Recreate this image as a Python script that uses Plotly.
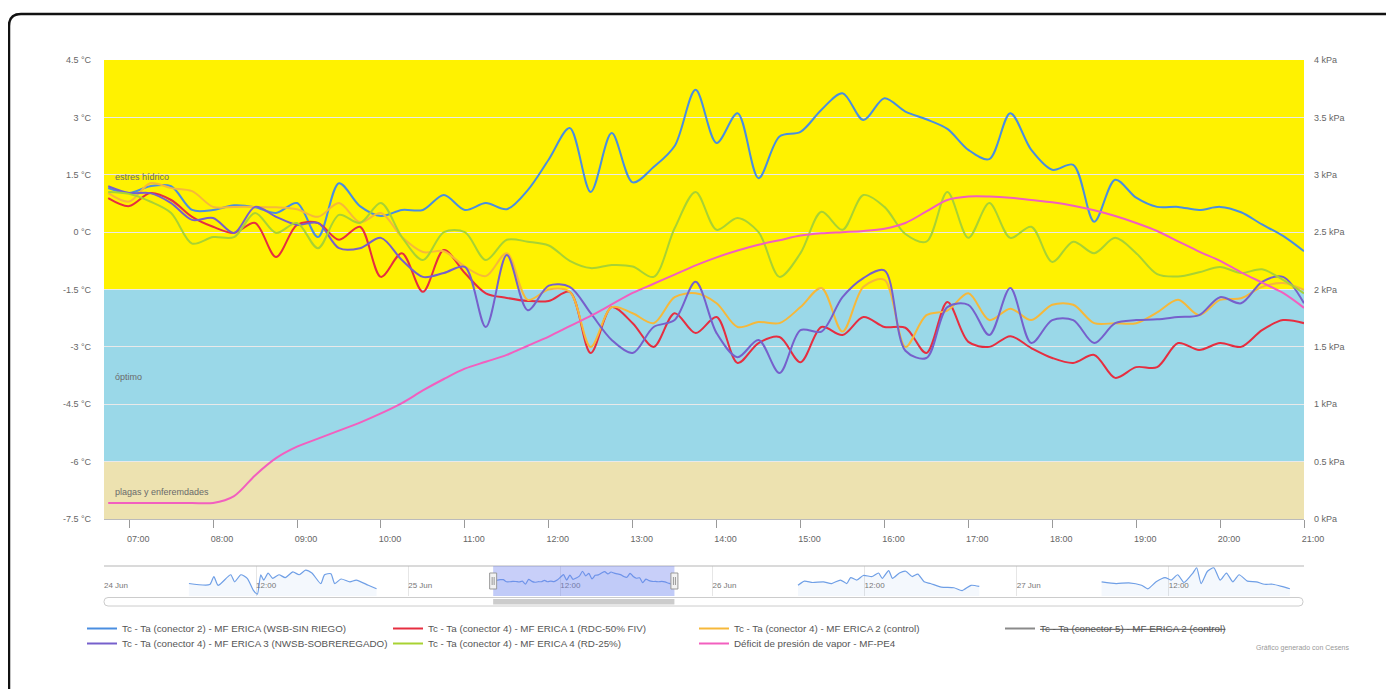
import plotly.graph_objects as go

# ---------------- data ----------------
DAY = "2024-06-25"
X_START = "2024-06-25 06:42"
X_END = "2024-06-25 21:00"

TIMES = ["06:45", "07:00", "07:15", "07:30", "07:45", "08:00", "08:15", "08:30", "08:45",
         "09:00", "09:15", "09:30", "09:45", "10:00", "10:15", "10:30", "10:45",
         "11:00", "11:15", "11:30", "11:45", "12:00", "12:15", "12:30", "12:45",
         "13:00", "13:15", "13:30", "13:45", "14:00", "14:15", "14:30", "14:45",
         "15:00", "15:15", "15:30", "15:45", "16:00", "16:15", "16:30", "16:45",
         "17:00", "17:15", "17:30", "17:45", "18:00", "18:15", "18:30", "18:45",
         "19:00", "19:15", "19:30", "19:45", "20:00", "20:15", "20:30", "20:45", "21:00"]

WSB_SIN_RIEGO = [1.15, 1.02, 1.20, 1.20, 0.58, 0.58, 0.70, 0.65, 0.50, 0.76,
                 -0.13, 1.28, 0.68, 0.42, 0.58, 0.58, 0.97, 0.58, 0.76, 0.60,
                 1.10, 1.90, 2.72, 1.05, 2.59, 1.30, 1.70, 2.25, 3.72, 2.33,
                 3.11, 1.41, 2.50, 2.62, 3.20, 3.63, 2.93, 3.50, 3.15, 2.95,
                 2.70, 2.15, 1.91, 3.11, 2.15, 1.63, 1.76, 0.27, 1.37, 0.90,
                 0.66, 0.66, 0.58, 0.66, 0.52, 0.20, -0.10, -0.50]

RDC_50_FIV = [0.89, 0.68, 1.02, 0.84, 0.40, 0.14, -0.02, 0.24, -0.65, 0.19,
              0.24, -0.20, 0.14, -1.17, -0.55, -1.56, -0.47, -1.07, -1.60, -1.72,
              -1.80, -1.80, -1.56, -3.16, -1.96, -2.38, -3.00, -2.12, -2.64, -2.22,
              -3.42, -2.90, -2.74, -3.40, -2.48, -2.69, -2.22, -2.48, -2.50, -3.16,
              -1.83, -2.87, -3.00, -2.72, -3.03, -3.29, -3.42, -3.21, -3.81, -3.53,
              -3.53, -2.90, -3.08, -2.90, -3.00, -2.56, -2.30, -2.38]

CONTROL_C4 = [1.02, 0.80, 1.28, 1.15, 1.07, 0.66, 0.66, 0.66, 0.65, 0.60,
              0.40, 0.76, 0.26, 0.50, -0.13, -0.52, -0.50, -0.90, -1.15, -0.55,
              -1.77, -1.50, -1.56, -3.00, -1.96, -2.12, -2.38, -1.70, -1.60, -1.86,
              -2.48, -2.35, -2.38, -1.96, -1.46, -2.60, -1.43, -1.25, -3.00, -2.17,
              -2.05, -1.60, -2.30, -2.00, -2.30, -1.90, -1.90, -2.38, -2.38, -2.38,
              -2.10, -1.77, -2.17, -1.77, -1.73, -1.43, -1.33, -1.51]

NWSB_SOBREREGADO = [1.20, 1.02, 1.02, 0.76, 0.32, 0.37, -0.02, 0.66, 0.40, 0.19,
                    0.24, -0.42, -0.42, -0.15, -0.73, -1.17, -1.07, -0.91, -2.48, -0.60,
                    -2.04, -1.40, -1.43, -2.12, -2.82, -3.16, -2.48, -2.30, -1.30, -2.64,
                    -3.27, -2.82, -3.68, -2.56, -2.60, -1.70, -1.20, -1.00, -3.10, -3.29,
                    -1.96, -1.90, -2.69, -1.46, -2.90, -2.30, -2.30, -2.90, -2.38, -2.30,
                    -2.28, -2.22, -2.17, -1.70, -1.86, -1.30, -1.17, -1.86]

RD_25 = [1.05, 1.00, 0.80, 0.50, -0.30, -0.13, -0.13, 0.50, -0.02, 0.24,
         -0.42, 0.45, 0.24, 0.76, -0.13, -0.73, 0.00, 0.00, -0.73, -0.20,
         -0.25, -0.35, -0.75, -0.94, -0.86, -0.90, -1.17, 0.10, 1.05, 0.06,
         0.37, 0.00, -1.17, -0.55, 0.53, 0.06, 0.97, 0.66, -0.05, -0.25,
         1.05, -0.15, 0.76, -0.15, 0.14, -0.78, -0.25, -0.55, -0.15, -0.55,
         -1.10, -1.16, -1.05, -0.91, -1.07, -0.97, -1.25, -1.60]

VPD_KPA = [0.14, 0.14, 0.14, 0.14, 0.14, 0.14, 0.20, 0.38, 0.53, 0.63,
           0.70, 0.77, 0.84, 0.92, 1.01, 1.12, 1.22, 1.31, 1.37, 1.43,
           1.51, 1.59, 1.68, 1.77, 1.87, 1.97, 2.05, 2.13, 2.21, 2.28,
           2.34, 2.39, 2.43, 2.47, 2.49, 2.50, 2.51, 2.53, 2.58, 2.68,
           2.78, 2.81, 2.81, 2.80, 2.78, 2.76, 2.73, 2.69, 2.64, 2.58,
           2.51, 2.42, 2.33, 2.25, 2.15, 2.06, 1.97, 1.84]

SERIES_NAMES = [
    "Tc - Ta (conector 2) - MF ERICA (WSB-SIN RIEGO)",
    "Tc - Ta (conector 4) - MF ERICA 1 (RDC-50% FIV)",
    "Tc - Ta (conector 4) - MF ERICA 2 (control)",
    "Tc - Ta (conector 5) - MF ERICA 2 (control)",
    "Tc - Ta (conector 4) - MF ERICA 3 (NWSB-SOBREREGADO)",
    "Tc - Ta (conector 4) - MF ERICA 4 (RD-25%)",
    "Déficit de presión de vapor - MF-PE4",
]

HOUR_TICKS = ["07:00", "08:00", "09:00", "10:00", "11:00", "12:00", "13:00", "14:00",
              "15:00", "16:00", "17:00", "18:00", "19:00", "20:00", "21:00"]
Y_TICKS = [-7.5, -6, -4.5, -3, -1.5, 0, 1.5, 3, 4.5]
Y_TICKTEXT = ["-7.5 °C", "-6 °C", "-4.5 °C", "-3 °C", "-1.5 °C", "0 °C", "1.5 °C", "3 °C", "4.5 °C"]
Y2_TICKS = [0, 0.5, 1, 1.5, 2, 2.5, 3, 3.5, 4]
Y2_TICKTEXT = ["0 kPa", "0.5 kPa", "1 kPa", "1.5 kPa", "2 kPa", "2.5 kPa", "3 kPa", "3.5 kPa", "4 kPa"]

BANDS = [(-1.5, 4.5, "estres hídrico", 1.44),
         (-6.0, -1.5, "óptimo", -3.79),
         (-7.5, -6.0, "plagas y enferemdades", -6.79)]

# navigator (overview of 4 days, series WSB-SIN RIEGO)
NAV_DAY1 = "2024-06-24"
NAV_D1_TIMES = ["06:42", "08:20", "08:40", "09:00", "10:00", "10:18", "10:48", "11:18", "11:48",
                "12:06", "12:22", "12:36", "12:57", "13:18", "13:48", "14:18", "14:54", "15:24",
                "15:54", "16:24", "17:06", "17:24", "17:54", "18:12", "18:42", "19:24", "19:54",
                "20:51", "21:30"]
NAV_D1_VALUES = [0.04, -0.28, 2.14, -0.49, 2.67, 0.56, 2.67, 1.61, -2.07,
                 -3.12, 2.67, 1.09, 3.19, 1.61, 2.67, 1.83, 3.51, 2.67,
                 4.04, 3.19, 0.04, 2.67, 2.98, 0.04, 1.40, 0.56, 1.09,
                 -0.49, -1.54]
NAV_DAY3 = "2024-06-26"
NAV_D3_TIMES = ["06:45", "07:15", "07:54", "08:45", "09:24", "10:06", "10:36", "10:54", "11:24",
                "11:54", "12:36", "13:06", "13:24", "13:54", "14:12", "14:45", "15:15", "15:45",
                "16:12", "16:42", "17:12", "18:03", "19:03", "19:42", "20:24", "21:03"]
NAV_D3_VALUES = [-0.49, 0.77, 0.35, 0.56, 0.04, 1.09, 0.04, 1.83, 1.09,
                 2.46, 2.14, 3.19, 1.61, 3.93, 1.61, 3.19, 3.72, 2.14,
                 2.88, 0.56, 0.04, -1.02, -1.23, -2.07, -0.49, -0.81]
NAV_DAY4 = "2024-06-27"
NAV_D4_TIMES = ["06:42", "07:51", "08:51", "09:51", "10:21", "11:00", "11:42", "12:12", "12:42",
                "13:12", "13:54", "14:12", "14:33", "15:03", "15:33", "16:03", "16:33", "17:03",
                "17:33", "18:12", "18:54", "19:33", "20:12", "20:54", "21:33"]
NAV_D4_VALUES = [0.56, 0.04, 0.25, -0.49, -1.54, 0.56, 1.83, 1.09, 2.67,
                 0.35, 3.19, 4.77, 0.04, 3.72, 4.77, 1.09, 3.19, 0.56,
                 2.67, 0.77, 0.56, -0.17, -0.17, -0.81, -1.54]
NAV_RANGE = ["2024-06-24 00:00", "2024-06-27 22:40"]
NAV_Y_RANGE = [-3.7, 5.3]
NAV_TICKS = ["2024-06-24 00:00", "2024-06-24 12:00", "2024-06-25 00:00", "2024-06-25 12:00",
             "2024-06-26 00:00", "2024-06-26 12:00", "2024-06-27 00:00", "2024-06-27 12:00"]
NAV_TICKTEXT = ["24 Jun", "12:00", "25 Jun", "12:00", "26 Jun", "12:00", "27 Jun", "12:00"]

# ---------------- styling ----------------
COLORS = ["#4a8ee0", "#e62e40", "#f6b83a", "#8a8a8a", "#7660cc", "#a8d233", "#f25fbf"]
LEGEND_ROW = ["legend", "legend", "legend", "legend", "legend2", "legend2", "legend2"]
FONT = "Liberation Sans, Arial, sans-serif"
BAND_COLORS = ["#fff200", "#9ad8e8", "#ede2b0"]

# page pixel layout (the html body adds an 8px margin around the figure)
PAGE_OFF = 8
FIG_W, FIG_H = 1394 - PAGE_OFF, 689 - PAGE_OFF
L_PX, R_PX, T_PX, B_PX = 104, 1304, 60, 606   # in page pixels


def px(x):
    return (x - L_PX) / (R_PX - L_PX)


def py(y):
    return (B_PX - y) / (B_PX - T_PX)


X = [f"{DAY} {t}" for t in TIMES]

fig = go.Figure()

main_series = [WSB_SIN_RIEGO, RDC_50_FIV, CONTROL_C4, None, NWSB_SOBREREGADO, RD_25]
for i, vals in enumerate(main_series):
    if vals is None:
        # series switched off in the reference (struck-through legend entry, no line drawn)
        fig.add_trace(go.Scatter(
            x=[X[0]], y=[None], name="<s>" + SERIES_NAMES[i] + "</s>",
            mode="lines", line=dict(color=COLORS[i], width=2),
            legend=LEGEND_ROW[i], xaxis="x", yaxis="y"))
        continue
    fig.add_trace(go.Scatter(
        x=X, y=vals, name=SERIES_NAMES[i], mode="lines",
        line=dict(color=COLORS[i], width=2, shape="spline", smoothing=0.9),
        legend=LEGEND_ROW[i], xaxis="x", yaxis="y"))

fig.add_trace(go.Scatter(
    x=X, y=VPD_KPA, name=SERIES_NAMES[6], mode="lines",
    line=dict(color=COLORS[6], width=2, shape="spline", smoothing=0.9),
    legend=LEGEND_ROW[6], xaxis="x", yaxis="y2"))

# navigator traces
nav_days = [
    ([f"{NAV_DAY1} {t}" for t in NAV_D1_TIMES], NAV_D1_VALUES),
    (X, WSB_SIN_RIEGO),
    ([f"{NAV_DAY3} {t}" for t in NAV_D3_TIMES], NAV_D3_VALUES),
    ([f"{NAV_DAY4} {t}" for t in NAV_D4_TIMES], NAV_D4_VALUES),
]
for nx, ny in nav_days:
    fig.add_trace(go.Scatter(x=nx, y=[NAV_Y_RANGE[0]] * len(nx), mode="lines",
                             line=dict(width=0), showlegend=False, hoverinfo="skip",
                             xaxis="x2", yaxis="y3"))
    fig.add_trace(go.Scatter(x=nx, y=ny, mode="lines", fill="tonexty",
                             fillcolor="rgba(100,150,230,0.07)",
                             line=dict(color="#6f9fe6", width=1.2, shape="spline", smoothing=0.6),
                             showlegend=False, hoverinfo="skip",
                             xaxis="x2", yaxis="y3"))

shapes = []
for (y0, y1, _, _), c in zip(BANDS, BAND_COLORS):
    shapes.append(dict(type="rect", xref="paper", yref="y", x0=0, x1=1, y0=y0, y1=y1,
                       fillcolor=c, line=dict(width=0), layer="below"))

# navigator outline top
shapes.append(dict(type="line", xref="paper", yref="paper", x0=0, x1=1,
                   y0=py(566), y1=py(566), line=dict(color="#b5b5b5", width=1)))
# navigator selection mask
shapes.append(dict(type="rect", xref="x2", yref="paper", x0=X_START, x1=X_END,
                   y0=py(596), y1=py(566), fillcolor="rgba(110,130,240,0.38)",
                   line=dict(width=0), layer="above"))
# handles
for anchor in (X_START, X_END):
    shapes.append(dict(type="rect", xref="x2", xsizemode="pixel", xanchor=anchor,
                       x0=-3.5, x1=3.5, yref="paper", y0=py(589), y1=py(573),
                       fillcolor="#f2f2f2", line=dict(color="#999999", width=1)))
    for dx in (-1, 1):
        shapes.append(dict(type="line", xref="x2", xsizemode="pixel", xanchor=anchor,
                           x0=dx, x1=dx, yref="paper", y0=py(585), y1=py(577),
                           line=dict(color="#999999", width=1)))


def rounded_rect(x0, y0, x1, y1, r):
    rx = r / (R_PX - L_PX)
    ry = r / (B_PX - T_PX)
    a, b, c, d = px(x0), py(y0), px(x1), py(y1)
    return (f"M {a + rx},{b} L {c - rx},{b} Q {c},{b} {c},{b - ry} L {c},{d + ry} "
            f"Q {c},{d} {c - rx},{d} L {a + rx},{d} Q {a},{d} {a},{d + ry} "
            f"L {a},{b - ry} Q {a},{b} {a + rx},{b} Z")


# scrollbar track and thumb
shapes.append(dict(type="path", xref="paper", yref="paper",
                   path=rounded_rect(104, 597.5, 1303, 606, 4),
                   fillcolor="#ffffff", line=dict(color="#cccccc", width=1)))
shapes.append(dict(type="rect", xref="x2", yref="paper", x0=X_START, x1=X_END,
                   y0=py(604.5), y1=py(599), fillcolor="#cccccc", line=dict(width=0)))

# outer page frame (rounded top-left corner)
fx0, fy0, r = 9, 14, 12
frame_path = (f"M {px(fx0)},{py(720)} L {px(fx0)},{py(fy0 + r)} "
              f"Q {px(fx0)},{py(fy0)} {px(fx0 + r)},{py(fy0)} L {px(1420)},{py(fy0)}")
shapes.append(dict(type="path", xref="paper", yref="paper", path=frame_path,
                   line=dict(color="#111111", width=2.5), layer="above"))

annotations = []
for (_, _, label, ly) in BANDS:
    annotations.append(dict(text=label, xref="paper", yref="y", x=px(113), y=ly,
                            xanchor="left", yanchor="middle", showarrow=False,
                            font=dict(size=9, color="#6a6a6a", family=FONT)))
annotations.append(dict(text="Gráfico generado con Cesens", xref="paper", yref="paper",
                        x=px(1352), y=py(648), xanchor="right", yanchor="middle",
                        showarrow=False, font=dict(size=7, color="#999999", family=FONT)))

legend_common = dict(orientation="h", x=px(82), xanchor="left", yanchor="top",
                     font=dict(size=9.8, color="#555555", family=FONT),
                     entrywidth=261, entrywidthmode="pixels", bgcolor="rgba(0,0,0,0)",
                     traceorder="normal")

fig.update_layout(
    width=FIG_W, height=FIG_H,
    margin=dict(l=L_PX - PAGE_OFF, r=FIG_W - (R_PX - PAGE_OFF),
                t=T_PX - PAGE_OFF, b=FIG_H - (B_PX - PAGE_OFF)),
    paper_bgcolor="white", plot_bgcolor="white",
    font=dict(family=FONT, color="#666666"),
    showlegend=True,
    xaxis=dict(type="date", range=[X_START, X_END], domain=[0, 1], anchor="y",
               tickvals=[f"{DAY} {h}" for h in HOUR_TICKS], ticktext=HOUR_TICKS,
               ticks="outside", ticklen=8, tickcolor="#999999", tickwidth=1,
               showgrid=False, showline=True, linecolor="#bbbbbb", zeroline=False,
               tickfont=dict(size=9, color="#666666"), ticklabelshift=9, ticklabelstandoff=3,
               fixedrange=True),
    yaxis=dict(range=[-7.5, 4.5], domain=[py(519), 1], anchor="x",
               tickvals=Y_TICKS, ticktext=Y_TICKTEXT, showgrid=True, gridcolor="#e9e9e9",
               gridwidth=1, zeroline=False, showline=False, ticks="",
               tickfont=dict(size=9, color="#666666"), ticklabelstandoff=12),
    yaxis2=dict(range=[0, 4], overlaying="y", side="right", anchor="x",
                tickvals=Y2_TICKS, ticktext=Y2_TICKTEXT, showgrid=False, zeroline=False,
                showline=False, ticks="", tickfont=dict(size=9, color="#666666"),
                ticklabelstandoff=9),
    xaxis2=dict(type="date", range=NAV_RANGE, domain=[0, 1], anchor="y3",
                tickvals=NAV_TICKS, ticktext=NAV_TICKTEXT, ticks="",
                ticklabelposition="inside right", showgrid=True, gridcolor="#e6e6e6",
                showline=False, zeroline=False, tickfont=dict(size=8, color="#777777")),
    yaxis3=dict(range=NAV_Y_RANGE, domain=[py(596), py(566)], anchor="x2", visible=False),
    legend=dict(y=py(614), **legend_common),
    legend2=dict(y=py(629), **legend_common),
    shapes=shapes,
    annotations=annotations,
)

fig.write_html("out.html")
